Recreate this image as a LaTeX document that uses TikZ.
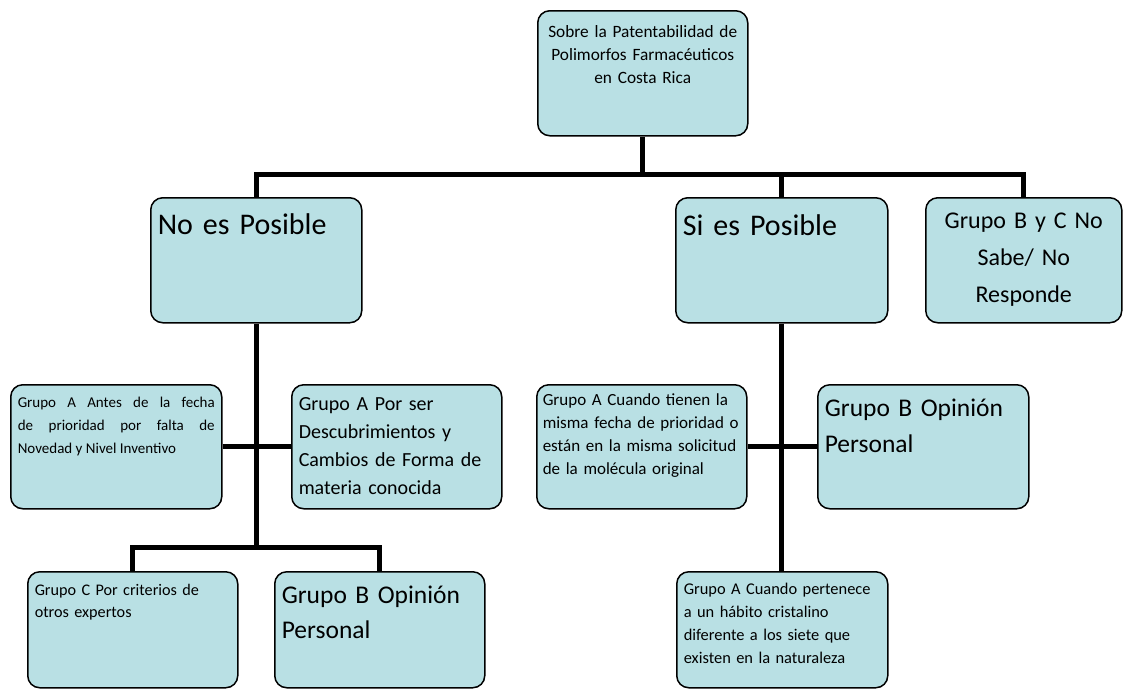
\documentclass[tikz,border=0pt]{standalone}
\usepackage{fontspec}
\setmainfont{Carlito}
\usepackage{xcolor}
\usepackage{tikz}
\definecolor{celeste}{RGB}{185,224,228}
\tikzset{
	caja/.style={draw=black, line width=1.5pt, rounded corners=12pt, fill=celeste,
		anchor=north west, inner xsep=7pt, inner ysep=0pt, align=left},
	rama/.style={draw=black, line width=5pt},
}

\begin{document}
\begin{tikzpicture}[x=1pt,y=-1pt]
				\useasboundingbox (0,0) rectangle (1123,689);
				
				% nivel 1
				\node[caja, align=center, inner xsep=3pt, text width=204pt, text height=27pt, text depth=98pt,
					font=\fontsize{17.3}{23}\selectfont] (tema) at (537,10)
					{Sobre la Patentabilidad de\\Polimorfos Farmacéuticos\\en Costa Rica};
				
				% nivel 2
				\node[caja, text width=197pt, text height=37pt, text depth=88pt,
					font=\fontsize{30}{36}\selectfont] (no) at (150,197) {No es Posible};
				\node[caja, text width=198pt, text height=38pt, text depth=87pt,
					font=\fontsize{30}{36}\selectfont] (si) at (675,197) {Si es Posible};
				\node[caja, align=center, inner xsep=3pt, text width=190pt, text height=31pt, text depth=94pt,
					font=\fontsize{24}{37}\selectfont] (nosabe) at (925,197)
					{Grupo B y C No\\Sabe/ No\\Responde};
				
				% rama No es Posible
				\node[caja, align=justify, text width=197pt, text height=23pt, text depth=101pt,
					font=\fontsize{15}{23}\selectfont] (noA1) at (10,384)
					{Grupo A Antes de la fecha\linebreak de prioridad por falta de\linebreak Novedad y Nivel Inventivo};
				\node[caja, text width=196pt, text height=26pt, text depth=98pt,
					font=\fontsize{20}{28}\selectfont] (noA2) at (291,384)
					{Grupo A Por ser\\Descubrimientos y\\Cambios de Forma de\\materia conocida};
				\node[caja, text width=196pt, text height=24pt, text depth=92pt,
					font=\fontsize{16.2}{22}\selectfont] (noC) at (27,571)
					{Grupo C Por criterios de\\otros expertos};
				\node[caja, text width=196pt, text height=32pt, text depth=84pt,
					font=\fontsize{25.5}{35}\selectfont] (noB) at (274,571)
					{Grupo B Opinión\\Personal};
				
				% rama Si es Posible
				\node[caja, inner xsep=6pt, text width=198pt, text height=21pt, text depth=103pt,
					font=\fontsize{17}{23}\selectfont] (siA1) at (536,384)
					{Grupo A Cuando tienen la\\misma fecha de prioridad o\\están en la misma solicitud\\de la molécula original};
				\node[caja, text width=197pt, text height=32pt, text depth=92pt,
					font=\fontsize{25.5}{36}\selectfont] (siB) at (817,384)
					{Grupo B Opinión\\Personal};
				\node[caja, text width=197pt, text height=23pt, text depth=93pt,
					font=\fontsize{16.4}{23}\selectfont] (siA2) at (676,571)
					{Grupo A Cuando pertenece\\a un hábito cristalino\\diferente a los siete que\\existen en la naturaleza};
				
				% conectores
				\draw[rama] (tema.south) -- ++(0,37.5) coordinate (bus) -| (no.north);
				\draw[rama] (bus) -| (si.north);
				\draw[rama] (bus) -| (nosabe.north);
				
				\draw[rama] (no.south) -- ++(0,224) coordinate (busNo) -| (noC.north);
				\draw[rama] (busNo) -| (noB.north);
				\draw[rama] (noA1.east) -- (noA2.west);
				
				\draw[rama] (si.south) -- (si.south |- siA2.north);
				\draw[rama] (siA1.east) -- (siB.west);
			\end{tikzpicture}
\end{document}
